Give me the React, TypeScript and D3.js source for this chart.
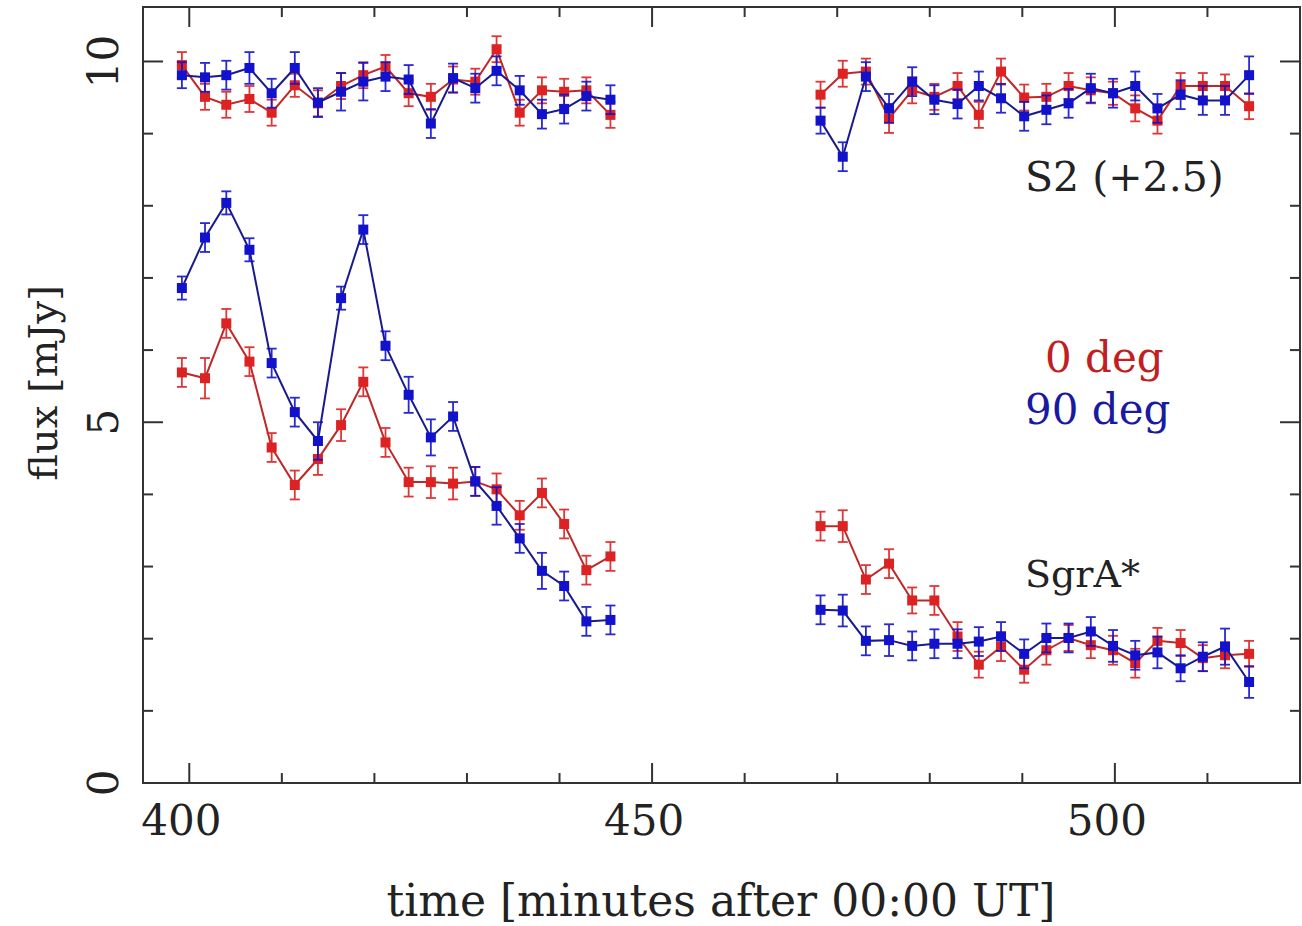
import React from "react";
import * as d3 from "d3";

// time stamps (minutes after 00:00 UT)
const timesA = [399.2, 401.7, 404.0, 406.5, 408.9, 411.4, 413.9, 416.4, 418.8, 421.2, 423.7, 426.1, 428.5, 430.9, 433.2, 435.7, 438.1, 440.5, 442.9, 445.5];
const timesB = [468.2, 470.6, 473.1, 475.6, 478.1, 480.5, 483.0, 485.3, 487.7, 490.2, 492.6, 495.0, 497.4, 499.8, 502.2, 504.6, 507.1, 509.5, 511.9, 514.5];

// SgrA* flux, 0 deg (red)
const sgr0A = [5.69, 5.61, 6.37, 5.84, 4.65, 4.13, 4.49, 4.96, 5.56, 4.72, 4.17, 4.17, 4.15, 4.18, 4.07, 3.71, 4.02, 3.59, 2.95, 3.14];
const sgr0B = [3.56, 3.56, 2.82, 3.04, 2.53, 2.53, 2.03, 1.64, 1.89, 1.57, 1.84, 2.01, 1.91, 1.84, 1.66, 1.97, 1.94, 1.73, 1.77, 1.79];
const sgr0ErrA = [0.2, 0.28, 0.2, 0.2, 0.2, 0.2, 0.22, 0.22, 0.2, 0.2, 0.2, 0.22, 0.22, 0.2, 0.22, 0.2, 0.2, 0.2, 0.2, 0.2];
const sgr0ErrB = [0.2, 0.22, 0.2, 0.2, 0.18, 0.2, 0.2, 0.18, 0.2, 0.18, 0.2, 0.18, 0.18, 0.2, 0.2, 0.18, 0.18, 0.18, 0.18, 0.18];

// SgrA* flux, 90 deg (blue)
const sgr90A = [6.86, 7.56, 8.04, 7.39, 5.82, 5.14, 4.74, 6.72, 7.67, 6.06, 5.38, 4.79, 5.08, 4.18, 3.84, 3.39, 2.94, 2.73, 2.24, 2.26];
const sgr90B = [2.40, 2.39, 1.97, 1.98, 1.90, 1.93, 1.93, 1.96, 2.03, 1.79, 2.01, 2.01, 2.10, 1.90, 1.77, 1.81, 1.59, 1.75, 1.89, 1.40];
const sgr90ErrA = [0.16, 0.2, 0.16, 0.16, 0.2, 0.2, 0.26, 0.16, 0.2, 0.2, 0.25, 0.25, 0.2, 0.2, 0.26, 0.2, 0.25, 0.2, 0.2, 0.2];
const sgr90ErrB = [0.2, 0.22, 0.2, 0.22, 0.2, 0.2, 0.2, 0.2, 0.2, 0.2, 0.2, 0.2, 0.2, 0.22, 0.2, 0.22, 0.18, 0.2, 0.25, 0.22];

// S2 (+2.5) flux, 0 deg (red)
const s20A = [9.95, 9.51, 9.40, 9.48, 9.29, 9.67, 9.42, 9.66, 9.81, 9.93, 9.56, 9.51, 9.75, 9.72, 10.17, 9.29, 9.60, 9.58, 9.60, 9.26];
const s20B = [9.54, 9.83, 9.86, 9.21, 9.60, 9.51, 9.66, 9.26, 9.86, 9.50, 9.51, 9.66, 9.60, 9.56, 9.35, 9.18, 9.66, 9.66, 9.66, 9.38];
const s20ErrA = [0.18, 0.18, 0.18, 0.18, 0.18, 0.16, 0.18, 0.18, 0.18, 0.16, 0.18, 0.18, 0.18, 0.18, 0.18, 0.18, 0.18, 0.18, 0.18, 0.18];
const s20ErrB = [0.18, 0.18, 0.18, 0.2, 0.18, 0.18, 0.18, 0.18, 0.18, 0.18, 0.18, 0.18, 0.18, 0.16, 0.18, 0.18, 0.18, 0.18, 0.16, 0.18];

// S2 (+2.5) flux, 90 deg (blue)
const s290A = [9.81, 9.78, 9.81, 9.91, 9.56, 9.91, 9.43, 9.58, 9.72, 9.79, 9.75, 9.14, 9.77, 9.63, 9.87, 9.60, 9.27, 9.34, 9.52, 9.47];
const s290B = [9.18, 8.68, 9.79, 9.35, 9.72, 9.47, 9.41, 9.66, 9.49, 9.24, 9.33, 9.42, 9.63, 9.56, 9.66, 9.35, 9.54, 9.46, 9.46, 9.81];
const s290ErrA = [0.18, 0.2, 0.2, 0.22, 0.2, 0.22, 0.2, 0.26, 0.26, 0.2, 0.2, 0.2, 0.2, 0.2, 0.2, 0.2, 0.2, 0.2, 0.2, 0.2];
const s290ErrB = [0.18, 0.2, 0.2, 0.2, 0.2, 0.2, 0.2, 0.2, 0.2, 0.2, 0.2, 0.2, 0.2, 0.2, 0.2, 0.2, 0.2, 0.2, 0.2, 0.26];

// axis ticks
const xMajorTicks = [400, 450, 500];
const xMinorTicks = [410, 420, 430, 440, 460, 470, 480, 490, 510];
const yMajorTicks = [0, 5, 10];
const yMinorTicks = [1, 2, 3, 4, 6, 7, 8, 9];

const RED = "#dc2222";
const RED_LINE = "#c02828";
const BLUE = "#1212cc";
const BLUE_LINE = "#1a1a90";

type Seg = { t: number[]; v: number[]; e: number[] };

export default function App() {
  const W = 1302;
  const H = 926;
  const left = 143, right = 1300, bottom = 783, top = 7;
  const x = d3.scaleLinear().domain([395, 520]).range([left, right]);
  const y = d3.scaleLinear().domain([0, 10.755]).range([bottom, top]);

  const font = "'DejaVu Serif', serif";

  const series: { color: string; lineColor: string; segs: Seg[] }[] = [
    {
      color: RED,
      lineColor: RED_LINE,
      segs: [
        { t: timesA, v: sgr0A, e: sgr0ErrA },
        { t: timesB, v: sgr0B, e: sgr0ErrB },
        { t: timesA, v: s20A, e: s20ErrA },
        { t: timesB, v: s20B, e: s20ErrB },
      ],
    },
    {
      color: BLUE,
      lineColor: BLUE_LINE,
      segs: [
        { t: timesA, v: sgr90A, e: sgr90ErrA },
        { t: timesB, v: sgr90B, e: sgr90ErrB },
        { t: timesA, v: s290A, e: s290ErrA },
        { t: timesB, v: s290B, e: s290ErrB },
      ],
    },
  ];

  const line = d3
    .line<[number, number]>()
    .x((d) => x(d[0]))
    .y((d) => y(d[1]));

  const ms = 10; // marker size
  const cap = 5; // half cap width

  return (
    <svg
      width={W}
      height={H}
      style={{ position: "absolute", left: 0, top: 0, background: "#fff" }}
    >
      <rect x={0} y={0} width={W} height={H} fill="#fff" />
      {/* data */}
      {series.map((s, si) => (
        <g key={si}>
          {s.segs.map((seg, gi) => {
            const pts: [number, number][] = seg.t.map((t, i) => [t, seg.v[i]]);
            return (
              <g key={gi}>
                <path d={line(pts) || ""} fill="none" stroke={s.lineColor} strokeWidth={2} />
                {pts.map((p, i) => {
                  const cx = x(p[0]);
                  const y1 = y(p[1] + seg.e[i]);
                  const y2 = y(p[1] - seg.e[i]);
                  return (
                    <g key={i} stroke={s.color} strokeWidth={1.8} opacity={0.9}>
                      <line x1={cx} x2={cx} y1={y1} y2={y2} />
                      <line x1={cx - cap} x2={cx + cap} y1={y1} y2={y1} />
                      <line x1={cx - cap} x2={cx + cap} y1={y2} y2={y2} />
                    </g>
                  );
                })}
                {pts.map((p, i) => (
                  <rect
                    key={"m" + i}
                    x={x(p[0]) - ms / 2}
                    y={y(p[1]) - ms / 2}
                    width={ms}
                    height={ms}
                    fill={s.color}
                  />
                ))}
              </g>
            );
          })}
        </g>
      ))}

      {/* frame */}
      <rect
        x={left}
        y={top}
        width={right - left}
        height={bottom - top}
        fill="none"
        stroke="#333"
        strokeWidth={2}
      />

      {/* ticks */}
      <g stroke="#333" strokeWidth={2}>
        {xMajorTicks.map((t) => (
          <g key={"xM" + t}>
            <line x1={x(t)} x2={x(t)} y1={bottom} y2={bottom - 20} />
            <line x1={x(t)} x2={x(t)} y1={top} y2={top + 20} />
          </g>
        ))}
        {xMinorTicks.map((t) => (
          <g key={"xm" + t}>
            <line x1={x(t)} x2={x(t)} y1={bottom} y2={bottom - 10} />
            <line x1={x(t)} x2={x(t)} y1={top} y2={top + 10} />
          </g>
        ))}
        {yMajorTicks.map((t) => (
          <g key={"yM" + t}>
            <line x1={left} x2={left + 20} y1={y(t)} y2={y(t)} />
            <line x1={right} x2={right - 20} y1={y(t)} y2={y(t)} />
          </g>
        ))}
        {yMinorTicks.map((t) => (
          <g key={"ym" + t}>
            <line x1={left} x2={left + 10} y1={y(t)} y2={y(t)} />
            <line x1={right} x2={right - 10} y1={y(t)} y2={y(t)} />
          </g>
        ))}
      </g>

      {/* tick labels */}
      <g fontFamily={font} fontSize={42} fill="#222">
        {xMajorTicks.map((t) => (
          <text key={"xl" + t} x={x(t) - 8} y={835} textAnchor="middle">
            {t}
          </text>
        ))}
        {yMajorTicks.map((t) => (
          <text
            key={"yl" + t}
            transform={`translate(118,${y(t)}) rotate(-90)`}
            textAnchor="middle"
          >
            {t}
          </text>
        ))}
      </g>

      {/* axis titles */}
      <text
        x={721}
        y={916}
        textAnchor="middle"
        fontFamily={font}
        fontSize={44}
        fill="#222"
      >
        time [minutes after 00:00 UT]
      </text>
      <text
        transform={`translate(57,${383}) rotate(-90)`}
        textAnchor="middle"
        fontFamily={font}
        fontSize={40}
        fill="#222"
      >
        flux [mJy]
      </text>

      {/* annotations */}
      <g fontFamily={font}>
        <text x={1025} y={191} fontSize={41} fill="#222">S2 (+2.5)</text>
        <text x={1045} y={372} fontSize={42} fill="#c02020">0 deg</text>
        <text x={1025} y={424} fontSize={42} fill="#1a1aa0">90 deg</text>
        <text x={1025} y={587} fontSize={38} fill="#222">SgrA*</text>
      </g>
    </svg>
  );
}
